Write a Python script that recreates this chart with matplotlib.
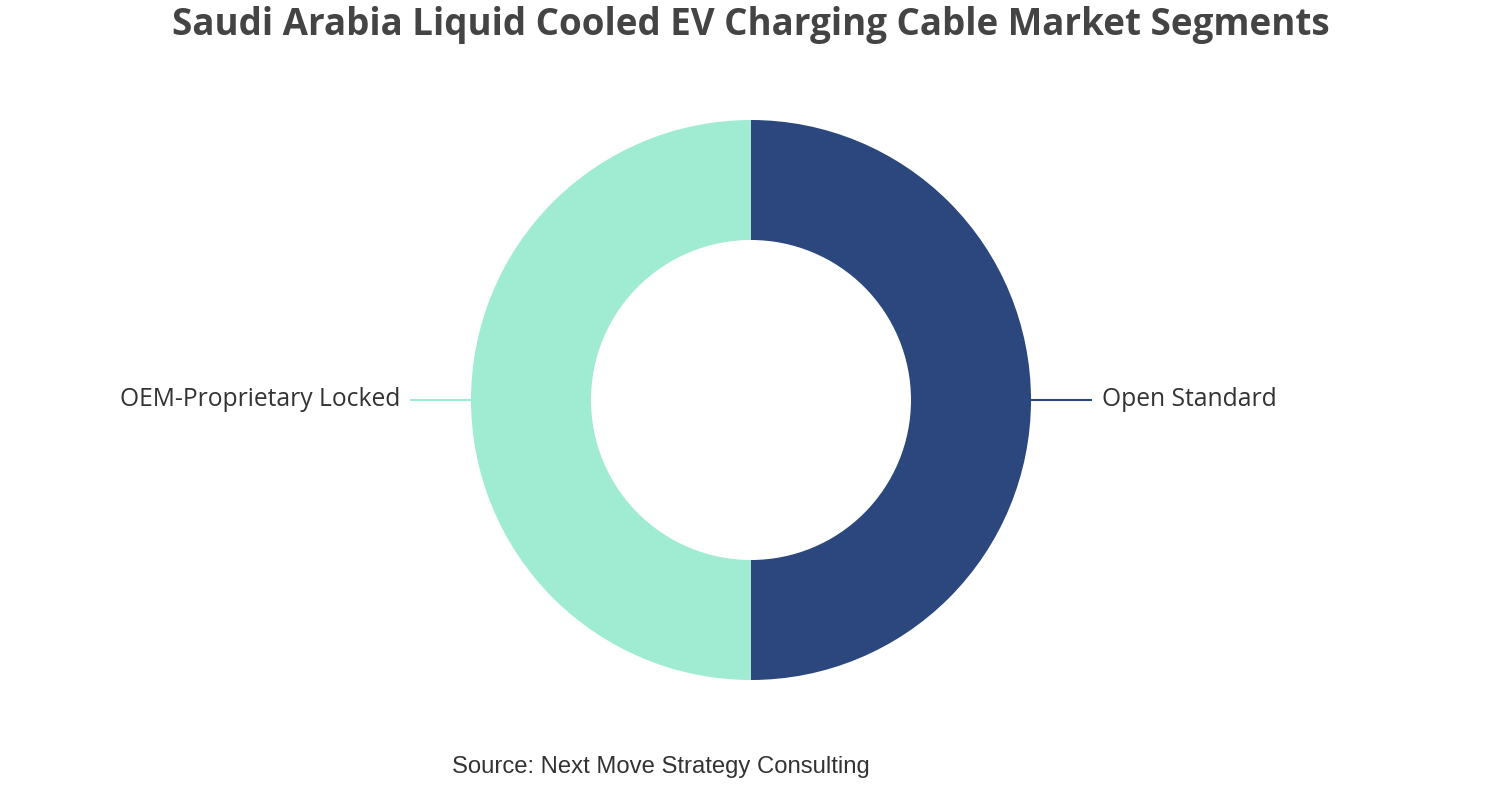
import numpy as np
import matplotlib
matplotlib.use("Agg")
import matplotlib.pyplot as plt

# data
segments = ["Open Standard", "OEM-Proprietary Locked"]
shares = [50, 50]
colors = ["#2B477D", "#A0ECD3"]

title = "Saudi Arabia Liquid Cooled EV Charging Cable Market Segments"
source = "Source: Next Move Strategy Consulting"

fig = plt.figure(figsize=(15.02, 8), dpi=100)
ax = fig.add_axes([0, 0, 1, 1])

cx, cy, r_out, r_in = 751, 400, 280, 160
wedges, _ = ax.pie(shares, colors=colors, startangle=90, counterclock=False,
                   center=(cx, cy), radius=r_out,
                   wedgeprops=dict(width=r_out - r_in, linewidth=0))
ax.set_xlim(0, 1502)
ax.set_ylim(800, 0)
ax.set_aspect("equal")
ax.axis("off")

# leader lines + labels at each wedge's middle angle (y axis is flipped)
for w, name, c in zip(wedges, segments, colors):
    ang = np.deg2rad((w.theta1 + w.theta2) / 2)
    dx = np.cos(ang)
    dy = -np.sin(ang)
    x0 = cx + r_out * dx
    y0 = cy + r_out * dy
    side = 1 if dx > 0 else -1
    x1 = x0 + side * 60
    ax.plot([x0, x1], [y0, y0], color=c, lw=1.5)
    ax.text(x1 + side * 11, y0 - 0.5, name, ha="left" if side > 0 else "right",
            va="center", fontsize=17.7, color="#333333", family="Open Sans")

fig.text(0.5, 1 - 25 / 800, title, ha="center", va="center", fontsize=26.5,
         fontweight="bold", color="#444444", family="Open Sans")
fig.text(660.5 / 1502, 1 - 767 / 800, source, ha="center", va="center",
         fontsize=17.2, color="#333333", family="Liberation Sans")

fig.savefig("out.png", dpi=100)
